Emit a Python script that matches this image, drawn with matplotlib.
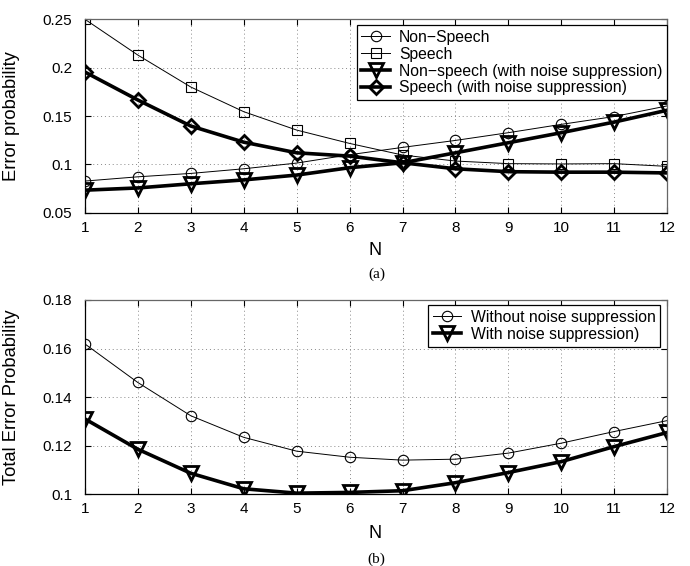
import matplotlib.pyplot as plt
import numpy as np

plt.rcParams['font.family'] = ['Liberation Sans', 'DejaVu Sans']

n = np.arange(1, 13)

# panel (a)
non_speech = [0.0828, 0.0872, 0.0907, 0.0955, 0.1014, 0.1100, 0.1176, 0.1248, 0.1328, 0.1414, 0.1495, 0.1605]
speech = [0.2500, 0.2130, 0.1800, 0.1545, 0.1355, 0.1217, 0.1097, 0.1035, 0.1008, 0.1005, 0.1008, 0.0980]
non_speech_ns = [0.0734, 0.0757, 0.0800, 0.0840, 0.0890, 0.0966, 0.1017, 0.1120, 0.1224, 0.1328, 0.1438, 0.1560]
speech_ns = [0.1955, 0.1666, 0.1397, 0.1230, 0.1120, 0.1086, 0.1017, 0.0955, 0.0925, 0.0920, 0.0920, 0.0912]

# panel (b)
total_without = [0.1619, 0.1460, 0.1323, 0.1234, 0.1177, 0.1152, 0.1140, 0.1144, 0.1169, 0.1210, 0.1258, 0.1303]
total_with = [0.1310, 0.1185, 0.1086, 0.1022, 0.1004, 0.1007, 0.1014, 0.1047, 0.1089, 0.1134, 0.1196, 0.1254]

thin = dict(color='black', lw=0.7, mfc='none', mec='black', mew=0.8, ms=7.5)
thick = dict(color='black', lw=2.6, mfc='none', mec='black', mew=2.0, ms=9.5)

fig = plt.figure(figsize=(6.9, 5.66), dpi=100)
ax1 = fig.add_axes([0.123, 0.624, 0.844, 0.342])
ax2 = fig.add_axes([0.123, 0.127, 0.844, 0.343])


def style(ax):
    ax.set_xlim(1, 12)
    ax.set_xticks(n)
    ax.grid(True, linestyle=(0, (1, 3)), color='#888888', lw=0.7)
    ax.tick_params(direction='in', top=True, right=True, labelsize=11, length=4)
    ax.tick_params(axis='y', pad=9)
    ax.tick_params(axis='x', pad=6)
    for s in ax.spines.values():
        s.set_linewidth(0.9)
    for s in ('top', 'right'):
        ax.spines[s].set_color('#666666')


ax1.plot(n, non_speech, marker='o', label='Non\u2212Speech', **thin)
ax1.plot(n, speech, marker='s', label='Speech', **dict(thin, ms=7))
ax1.plot(n, non_speech_ns, marker='v', label='Non\u2212speech (with noise suppression)', **thick)
ax1.plot(n, speech_ns, marker='D', label='Speech (with noise suppression)', **dict(thick, ms=7.5))
style(ax1)
ax1.set_ylim(0.05, 0.25)
ax1.set_yticks([0.05, 0.1, 0.15, 0.2, 0.25])
ax1.set_yticklabels(['0.05', '0.1', '0.15', '0.2', '0.25'])
ax1.set_ylabel('Error probability', fontsize=13.2)
ax1.yaxis.set_label_coords(-0.112, 0.5)
ax1.set_xlabel('N', fontsize=13, va='center')
ax1.xaxis.set_label_coords(0.498, -0.196)
leg1 = ax1.legend(loc='upper right', bbox_to_anchor=(1.0, 0.97), fontsize=11.3, fancybox=False,
                  edgecolor='black', framealpha=1, handlelength=1.8, borderpad=0.3,
                  labelspacing=0.12, handletextpad=0.6, borderaxespad=0)
leg1.get_frame().set_linewidth(0.9)
fig.text(0.546, 1 - 274 / 566, '(a)', family=['Liberation Serif', 'DejaVu Serif'],
         fontsize=11, ha='center', va='center')

ax2.plot(n, total_without, marker='o', label='Without noise suppression', **thin)
ax2.plot(n, total_with, marker='v', label='With noise suppression)', **thick)
style(ax2)
ax2.set_ylim(0.1, 0.18)
ax2.set_yticks([0.1, 0.12, 0.14, 0.16, 0.18])
ax2.set_yticklabels(['0.1', '0.12', '0.14', '0.16', '0.18'])
ax2.set_ylabel('Total Error Probability', fontsize=13.2)
ax2.yaxis.set_label_coords(-0.112, 0.5)
ax2.set_xlabel('N', fontsize=13, va='center')
ax2.xaxis.set_label_coords(0.498, -0.201)
leg2 = ax2.legend(loc='upper right', bbox_to_anchor=(0.988, 0.975), fontsize=11.3, fancybox=False,
                  edgecolor='black', framealpha=1, handlelength=1.8, borderpad=0.3,
                  labelspacing=0.15, handletextpad=0.6, borderaxespad=0)
leg2.get_frame().set_linewidth(0.9)
fig.text(0.546, 1 - 559 / 566, '(b)', family=['Liberation Serif', 'DejaVu Serif'],
         fontsize=11, ha='center', va='center')

fig.savefig('out.png', dpi=100)
